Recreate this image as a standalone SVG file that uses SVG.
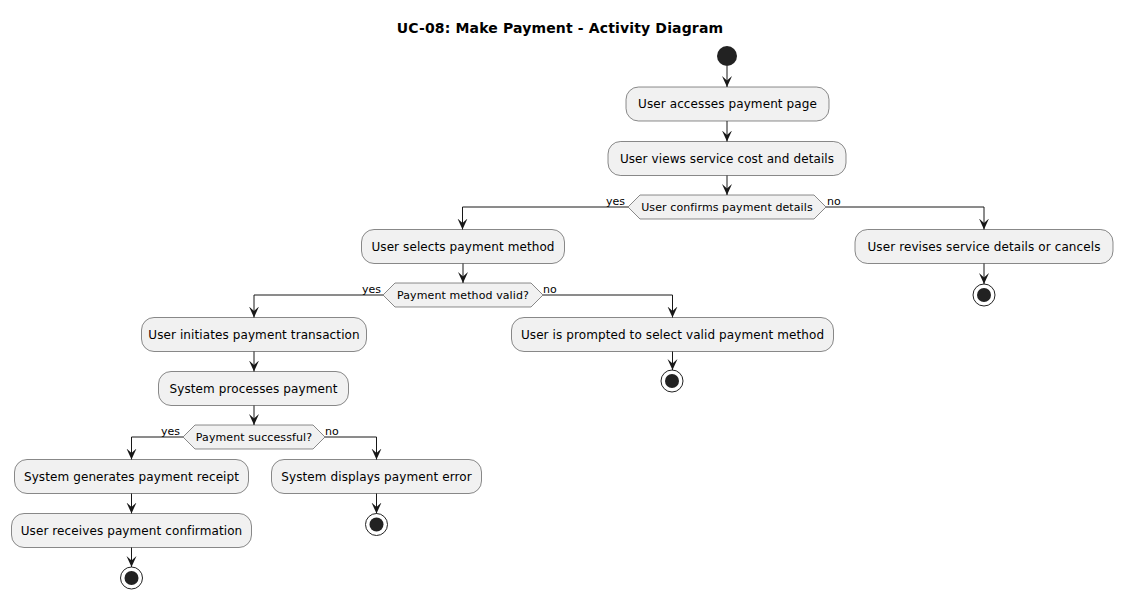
<svg xmlns="http://www.w3.org/2000/svg" width="1123" height="599" viewBox="0 0 1123 599">
<style>
.box{fill:#F1F1F1;stroke:#181818;stroke-width:0.5}
.t{font-family:"DejaVu Sans",sans-serif;font-size:12px;fill:#000;text-anchor:middle;letter-spacing:0.1px}
.d{font-family:"DejaVu Sans",sans-serif;font-size:11px;fill:#000;text-anchor:middle;letter-spacing:0.1px}
.l{font-family:"DejaVu Sans",sans-serif;font-size:11px;fill:#000}
.c{fill:none;stroke:#181818;stroke-width:1;marker-end:url(#ah)}
.endo{fill:none;stroke:#222;stroke-width:1}
.endi{fill:#222}
</style>
<defs>
<marker id="ah" markerUnits="userSpaceOnUse" markerWidth="11" markerHeight="11" refX="11" refY="5.5" orient="auto" viewBox="0 0 11 11">
<path d="M0,0.5 L11,5.5 L0,10.5 L4.5,5.5 Z" fill="#181818"/>
</marker>
</defs>
<rect width="1123" height="599" fill="#FFFFFF"/>
<text x="560" y="33" font-family="DejaVu Sans,sans-serif" font-size="14" font-weight="bold" text-anchor="middle" letter-spacing="0.15">UC-08: Make Payment - Activity Diagram</text>

<g id="start"><circle cx="727" cy="56" r="10" fill="#222"/></g>
<g id="a1"><rect class="box" x="626" y="87" width="203" height="34" rx="12.5"/><text class="t" x="727.5" y="108">User accesses payment page</text></g>
<g id="a2"><rect class="box" x="608" y="141.5" width="238" height="34" rx="12.5"/><text class="t" x="727" y="162.5">User views service cost and details</text></g>
<g id="d1"><polygon class="box" points="628,207 640,195 814,195 826,207 814,219 640,219"/><text class="d" x="727" y="211">User confirms payment details</text></g>
<g id="a3"><rect class="box" x="361.5" y="229.5" width="203" height="34" rx="12.5"/><text class="t" x="463" y="250.5">User selects payment method</text></g>
<g id="a4"><rect class="box" x="855" y="229.5" width="258" height="34" rx="12.5"/><text class="t" x="984" y="250.5">User revises service details or cancels</text></g>
<g id="e1"><circle class="endo" cx="984" cy="295" r="11"/><circle class="endi" cx="984" cy="295" r="7"/></g>
<g id="d2"><polygon class="box" points="383,295 395,283 531,283 543,295 531,307 395,307"/><text class="d" x="463" y="299">Payment method valid?</text></g>
<g id="a5"><rect class="box" x="141.5" y="317.5" width="225" height="34" rx="12.5"/><text class="t" x="254" y="338.5">User initiates payment transaction</text></g>
<g id="a6"><rect class="box" x="511.5" y="317.5" width="322" height="34" rx="12.5"/><text class="t" x="672.5" y="338.5">User is prompted to select valid payment method</text></g>
<g id="e2"><circle class="endo" cx="672" cy="381" r="11"/><circle class="endi" cx="672" cy="381" r="7"/></g>
<g id="a7"><rect class="box" x="158.5" y="371.5" width="190" height="34" rx="12.5"/><text class="t" x="253.5" y="392.5">System processes payment</text></g>
<g id="d3"><polygon class="box" points="183,437 195,425 313,425 325,437 313,449 195,449"/><text class="d" x="254" y="441">Payment successful?</text></g>
<g id="a8"><rect class="box" x="14.5" y="459.5" width="234" height="34" rx="12.5"/><text class="t" x="131.5" y="480.5">System generates payment receipt</text></g>
<g id="a9"><rect class="box" x="271.5" y="459.5" width="210" height="34" rx="12.5"/><text class="t" x="376.5" y="480.5">System displays payment error</text></g>
<g id="e3"><circle class="endo" cx="376.5" cy="524.5" r="11"/><circle class="endi" cx="376.5" cy="524.5" r="7"/></g>
<g id="a10"><rect class="box" x="11.5" y="513.5" width="240" height="34" rx="12.5"/><text class="t" x="131.5" y="534.5">User receives payment confirmation</text></g>
<g id="e4"><circle class="endo" cx="131.5" cy="578" r="11"/><circle class="endi" cx="131.5" cy="578" r="7"/></g>

<g id="connectors">
<path class="c" d="M727,66 L727,87"/>
<path class="c" d="M727,121 L727,141.5"/>
<path class="c" d="M727,175.5 L727,195"/>
<path class="c" d="M628,207 L462.5,207 L462.5,229.5"/>
<path class="c" d="M826,207 L984,207 L984,229.5"/>
<path class="c" d="M984,263.5 L984,284"/>
<path class="c" d="M463,263.5 L463,283"/>
<path class="c" d="M383,295 L254,295 L254,317.5"/>
<path class="c" d="M543,295 L672.5,295 L672.5,317.5"/>
<path class="c" d="M672.5,351.5 L672.5,370"/>
<path class="c" d="M254,351.5 L254,371.5"/>
<path class="c" d="M254,405.5 L254,425"/>
<path class="c" d="M183,437 L131.5,437 L131.5,459.5"/>
<path class="c" d="M325,437 L376.5,437 L376.5,459.5"/>
<path class="c" d="M131.5,493.5 L131.5,513.5"/>
<path class="c" d="M131.5,547.5 L131.5,567"/>
<path class="c" d="M376.5,493.5 L376.5,513.5"/>
<text class="l" x="606" y="205">yes</text>
<text class="l" x="827" y="205">no</text>
<text class="l" x="362" y="293">yes</text>
<text class="l" x="543" y="293">no</text>
<text class="l" x="161" y="435">yes</text>
<text class="l" x="325" y="435">no</text>
</g>
</svg>
